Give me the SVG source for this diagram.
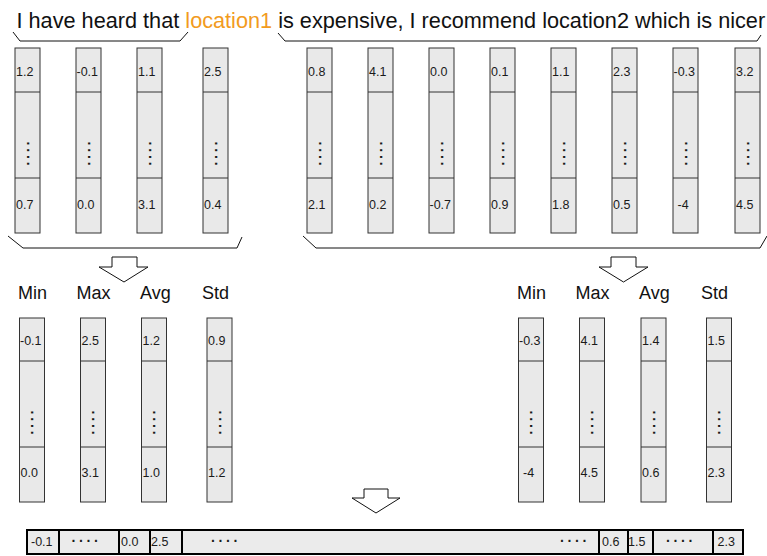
<svg xmlns="http://www.w3.org/2000/svg" width="767" height="556" viewBox="0 0 767 556">
  <style>
    .col rect { fill: #e9e9e9; stroke: #333; stroke-width: 1; }
    .col line { stroke: #333; stroke-width: 1; }
    .v { font-family: "Liberation Sans", Arial, sans-serif; font-size: 12.5px; fill: #1a1a1a; }
    .vd { font-family: "Liberation Sans", Arial, sans-serif; font-size: 14px; font-weight: bold; fill: #1a1a1a; letter-spacing: 2.1px; text-anchor: middle; }
    .hd { font-family: "Liberation Sans", Arial, sans-serif; font-size: 14px; font-weight: bold; fill: #1a1a1a; letter-spacing: 2.8px; }
    .title { font-family: "Liberation Sans", Arial, sans-serif; font-size: 21.7px; fill: #111; }
    .hl { fill: #f29b1d; }
    .stat { font-family: "Liberation Sans", Arial, sans-serif; font-size: 18px; fill: #111; }
    .brace { fill: none; stroke: #111; stroke-width: 1; }
    .blk { fill: #fff; stroke: #111; stroke-width: 1; stroke-linejoin: miter; }
    .bar rect { fill: #ebebeb; stroke: #000; stroke-width: 2; }
    .bar line { stroke: #000; stroke-width: 2; }
  </style>
  <defs>
    <!-- upper word-vector column: 25 wide, cells 44 / 86 / 55 -->
    <g id="colU" class="col">
      <rect x="0" y="0" width="25" height="185"/>
      <line x1="0" y1="44" x2="25" y2="44"/>
      <line x1="0" y1="130" x2="25" y2="130"/>
      <g transform="translate(11.5 107) rotate(90)"><text class="vd" x="0" y="4">····</text></g>
    </g>
    <!-- pooled column: 25 wide, cells 43 / 86 / 55 -->
    <g id="colL" class="col">
      <rect x="0" y="0" width="25" height="184"/>
      <line x1="0" y1="43" x2="25" y2="43"/>
      <line x1="0" y1="129" x2="25" y2="129"/>
      <g transform="translate(11.5 106) rotate(90)"><text class="vd" x="0" y="4">····</text></g>
    </g>
  </defs>

  <!-- sentence -->
  <g id="sentence">
    <text class="title" x="16.5" y="27.5">I have heard that <tspan class="hl">location1</tspan> is expensive, I recommend location2 which is nicer</text>
  </g>

  <!-- word vectors: left context -->
  <g id="ctxL">
    <g id="wL1"><use href="#colU" x="15" y="48"/><text class="v" x="16" y="76">1.2</text><text class="v" x="16" y="209">0.7</text></g>
    <g id="wL2"><use href="#colU" x="76" y="48"/><text class="v" x="76.5" y="76">-0.1</text><text class="v" x="77" y="209">0.0</text></g>
    <g id="wL3"><use href="#colU" x="137" y="48"/><text class="v" x="138" y="76">1.1</text><text class="v" x="138" y="209">3.1</text></g>
    <g id="wL4"><use href="#colU" x="203" y="48"/><text class="v" x="204" y="76">2.5</text><text class="v" x="204" y="209">0.4</text></g>
  </g>

  <!-- word vectors: right context -->
  <g id="ctxR">
    <g id="wR1"><use href="#colU" x="307" y="48"/><text class="v" x="308" y="76">0.8</text><text class="v" x="308" y="209">2.1</text></g>
    <g id="wR2"><use href="#colU" x="368" y="48"/><text class="v" x="369" y="76">4.1</text><text class="v" x="369" y="209">0.2</text></g>
    <g id="wR3"><use href="#colU" x="429" y="48"/><text class="v" x="430" y="76">0.0</text><text class="v" x="429.5" y="209">-0.7</text></g>
    <g id="wR4"><use href="#colU" x="490" y="48"/><text class="v" x="491" y="76">0.1</text><text class="v" x="491" y="209">0.9</text></g>
    <g id="wR5"><use href="#colU" x="551" y="48"/><text class="v" x="552" y="76">1.1</text><text class="v" x="552" y="209">1.8</text></g>
    <g id="wR6"><use href="#colU" x="612" y="48"/><text class="v" x="613" y="76">2.3</text><text class="v" x="613" y="209">0.5</text></g>
    <g id="wR7"><use href="#colU" x="673" y="48"/><text class="v" x="673.5" y="76">-0.3</text><text class="v" x="677.5" y="209">-4</text></g>
    <g id="wR8"><use href="#colU" x="735" y="48"/><text class="v" x="736" y="76">3.2</text><text class="v" x="736" y="209">4.5</text></g>
  </g>

  <!-- pooled statistics: left -->
  <g id="statsL">
    <text class="stat" x="18" y="298.5">Min</text>
    <text class="stat" x="76.5" y="298.5">Max</text>
    <text class="stat" x="140" y="298.5">Avg</text>
    <text class="stat" x="202" y="298.5">Std</text>
    <g id="pL1"><use href="#colL" x="19.5" y="318"/><text class="v" x="20" y="345">-0.1</text><text class="v" x="20.5" y="476.5">0.0</text></g>
    <g id="pL2"><use href="#colL" x="80.5" y="318"/><text class="v" x="81.5" y="345">2.5</text><text class="v" x="81.5" y="476.5">3.1</text></g>
    <g id="pL3"><use href="#colL" x="141.5" y="318"/><text class="v" x="142.5" y="345">1.2</text><text class="v" x="142.5" y="476.5">1.0</text></g>
    <g id="pL4"><use href="#colL" x="207" y="318"/><text class="v" x="208" y="345">0.9</text><text class="v" x="208" y="476.5">1.2</text></g>
  </g>

  <!-- pooled statistics: right -->
  <g id="statsR">
    <text class="stat" x="517" y="298.5">Min</text>
    <text class="stat" x="575.5" y="298.5">Max</text>
    <text class="stat" x="639" y="298.5">Avg</text>
    <text class="stat" x="701" y="298.5">Std</text>
    <g id="pR1"><use href="#colL" x="518.5" y="318"/><text class="v" x="519" y="345">-0.3</text><text class="v" x="523" y="476.5">-4</text></g>
    <g id="pR2"><use href="#colL" x="579.5" y="318"/><text class="v" x="580.5" y="345">4.1</text><text class="v" x="580.5" y="476.5">4.5</text></g>
    <g id="pR3"><use href="#colL" x="641" y="318"/><text class="v" x="642" y="345">1.4</text><text class="v" x="642" y="476.5">0.6</text></g>
    <g id="pR4"><use href="#colL" x="706.5" y="318"/><text class="v" x="707.5" y="345">1.5</text><text class="v" x="707.5" y="476.5">2.3</text></g>
  </g>

  <!-- concatenated feature vector -->
  <g id="feature" class="bar">
    <rect x="27" y="530" width="716" height="24"/>
    <line x1="59" y1="530" x2="59" y2="554"/>
    <line x1="119" y1="530" x2="119" y2="554"/>
    <line x1="150" y1="530" x2="150" y2="554"/>
    <line x1="182" y1="530" x2="182" y2="554"/>
    <line x1="599" y1="530" x2="599" y2="554"/>
    <line x1="628" y1="530" x2="628" y2="554"/>
    <line x1="653" y1="530" x2="653" y2="554"/>
    <line x1="713" y1="530" x2="713" y2="554"/>
    <text class="v" x="31" y="546">-0.1</text>
    <text class="hd" x="71.5" y="545.8">····</text>
    <text class="v" x="121" y="546">0.0</text>
    <text class="v" x="151" y="546">2.5</text>
    <text class="hd" x="211" y="545.8">····</text>
    <text class="hd" x="560" y="545.8">····</text>
    <text class="v" x="602" y="546">0.6</text>
    <text class="v" x="628" y="546">1.5</text>
    <text class="hd" x="666" y="545.8">····</text>
    <text class="v" x="717.5" y="546">2.3</text>
  </g>

  <!-- braces and block arrows -->
  <g id="connectors">
    <polyline class="brace" points="13,32 20,41 180,41 188,32"/>
    <polyline class="brace" points="278,33 285,41 757,41 761,35"/>
    <polyline class="brace" points="8,236 23,248 237,248 242,237"/>
    <polyline class="brace" points="303,236 316,248 760,248 767,236"/>
    <polygon class="blk" points="112,257 137,257 137,267 148,267 124,282 99,267 112,267"/>
    <polygon class="blk" points="611,257 636,257 636,267 648,267 623.5,282 599,267 611,267"/>
    <polygon class="blk" points="364,489 388,489 388,498 400,498 376,513 352,498 364,498"/>
  </g>
</svg>
